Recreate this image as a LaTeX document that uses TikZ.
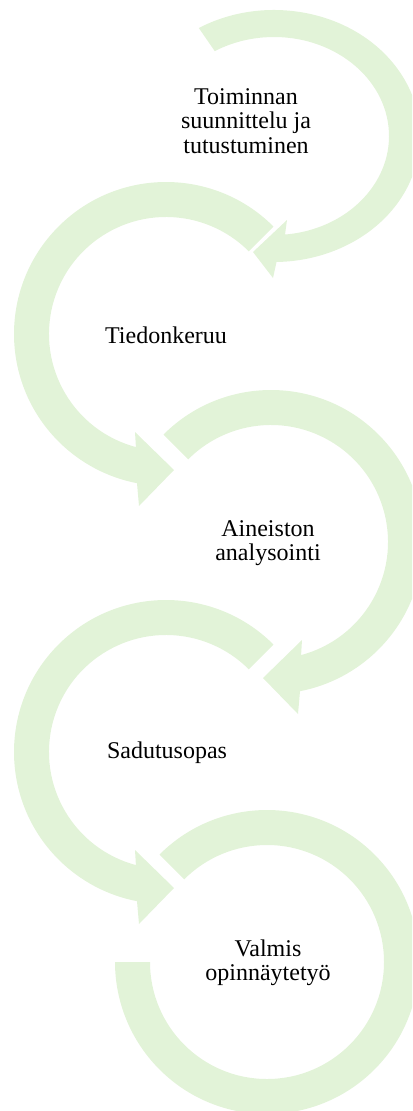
\documentclass[tikz,border=0pt]{standalone}
\usepackage{fontspec}
\setmainfont{Liberation Serif}
\definecolor{arcgreen}{HTML}{E2F3D8}
\begin{document}
\begin{tikzpicture}[x=0.75pt,y=0.75pt,
  band/.style={fill=arcgreen,draw=none},
  steptext/.style={font=\fontsize{18}{18.2}\selectfont,align=center,text=black,inner sep=0pt}]
\useasboundingbox (0,0) rectangle (412,-1111);
\begin{scope}
\clip (0,0) rectangle (412,-1111);
% circle 1 (slightly elliptical, first step)
\begin{scope}[shift={(274,-136)}]
\fill[band] (121:146 and 126) arc[start angle=121,end angle=-89,x radius=146,y radius=126]
  -- (-1,-142) -- (-21,-116) -- (13,-84)
  -- (-84.5:115 and 99) arc[start angle=-84.5,end angle=121,x radius=115,y radius=99] -- cycle;
\end{scope}
% circle 2 (left)
\begin{scope}[shift={(166,-334)},xscale=-1]
\fill[band] (135:152) arc[start angle=135,end angle=-79,radius=152]
  -- (27,-172) -- (-8,-136) -- (31,-98)
  -- (-75.1:117) arc[start angle=-75.1,end angle=135,radius=117] -- cycle;
\end{scope}
% circle 3 (right)
\begin{scope}[shift={(271,-542)}]
\fill[band] (135:152) arc[start angle=135,end angle=-79,radius=152]
  -- (27,-172) -- (-8,-136) -- (31,-98)
  -- (-75.1:117) arc[start angle=-75.1,end angle=135,radius=117] -- cycle;
\end{scope}
% circle 4 (left)
\begin{scope}[shift={(166,-752)},xscale=-1]
\fill[band] (135:152) arc[start angle=135,end angle=-79,radius=152]
  -- (27,-172) -- (-8,-136) -- (31,-98)
  -- (-75.1:117) arc[start angle=-75.1,end angle=135,radius=117] -- cycle;
\end{scope}
% circle 5 (right, no arrowhead)
\begin{scope}[shift={(267,-962)}]
\fill[band] (135:152) arc[start angle=135,end angle=-180,radius=152]
  -- (-180:117) arc[start angle=-180,end angle=135,radius=117] -- cycle;
\end{scope}
\end{scope}
\node[steptext] (t1) at (246,-121) {Toiminnan\\suunnittelu ja\\tutustuminen};
\node[steptext] (t2) at (166,-335) {Tiedonkeruu};
\node[steptext] (t3) at (268,-543) {Aineiston\\analysointi};
\node[steptext] (t4) at (167,-753) {Sadutusopas};
\node[steptext] (t5) at (268,-963) {Valmis\\opinnäytetyö};
\end{tikzpicture}
\end{document}
